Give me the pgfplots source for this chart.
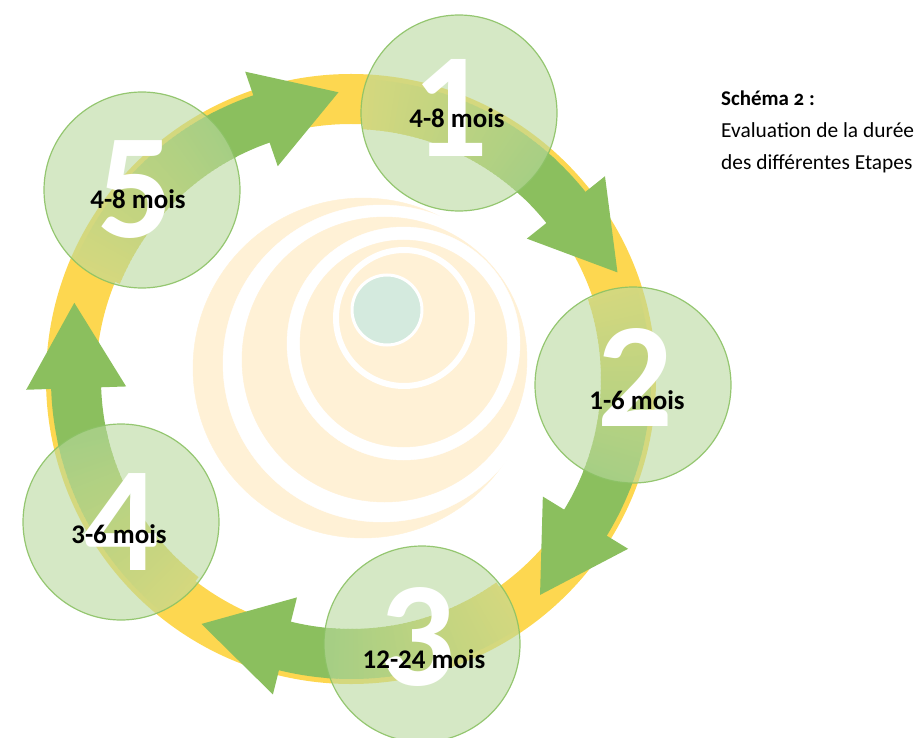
\documentclass[border=0pt]{standalone}
\usepackage{fontspec}
\setmainfont{Carlito}
\usepackage{pgfplots}
\pgfplotsset{compat=1.18}
\usetikzlibrary{calc}

\definecolor{ringyellow}{HTML}{FDD750}
\definecolor{arrowgreen}{HTML}{8BBF5E}
\definecolor{stagefill}{HTML}{B9D99E}
\definecolor{stageedge}{HTML}{8CC265}
\definecolor{cream}{HTML}{FFF1D6}
\definecolor{coretint}{HTML}{D4EADE}

\begin{document}
\begin{tikzpicture}
\begin{axis}[
  name=ax,
  x=1bp, y=1bp, y dir=reverse,
  xmin=0, xmax=916, ymin=0, ymax=738,
  hide axis, scale only axis,
]
\coordinate (O) at (axis cs:0,0);
\coordinate (C) at (axis cs:351,379);
% spiral in the middle (cream discs with white gaps)
\addplot[only marks, color=cream, mark=*, mark size=170bp] coordinates {(363,368)};
\addplot[only marks, color=white, mark=*, mark size=158.5bp] coordinates {(381.5,363.5)};
\addplot[only marks, color=cream, mark=*, mark size=142.5bp] coordinates {(384.5,359.5)};
\addplot[only marks, color=white, mark=*, mark size=116.5bp] coordinates {(403.5,343.5)};
\addplot[only marks, color=cream, mark=*, mark size=103.5bp] coordinates {(403.5,343.5)};
\addplot[only marks, color=white, mark=o, mark size=68bp, mark options={line width=6bp}] coordinates {(404,318)};
\addplot[only marks, mark=*, mark size=35bp, mark options={fill=coretint, draw=white, line width=3bp}] coordinates {(387,310)};
% yellow ring
\addplot[only marks, color=ringyellow, mark=o, mark size=280bp, mark options={line width=50bp}] coordinates {(351,379)};
\end{axis}

% curved arrows: yellow-to-green start, solid shaft, head
\begin{scope}[shift={(C)}]
\foreach \aS/\aB/\aT in {157.6/109/92.5, 87.3/38.6/21.8, 18.6/-31.5/-48.8, -54.5/-103.9/-121.4, 232.4/181.9/164.6}{
  \foreach \k in {0,...,39}{
    \pgfmathsetmacro\angA{\aS-\k}
    \pgfmathsetmacro\angB{\aS-\k-1.4}
    \pgfmathtruncatemacro\pc{round(100*\k/39)}
    \draw[color=arrowgreen!\pc!ringyellow, line width=50bp] (\angA:275bp) arc[start angle=\angA, end angle=\angB, radius=275bp];
  }
  \pgfmathsetmacro\angC{\aS-39.5}
  \pgfmathsetmacro\angD{\aB-1}
  \draw[arrowgreen, line width=50bp] (\angC:275bp) arc[start angle=\angC, end angle=\angD, radius=275bp];
  \fill[arrowgreen] (\aB:225bp) -- (\aB:325bp) -- (\aT:287bp) -- cycle;
}
\end{scope}

% the five stages, drawn over ring and arrows
\begin{axis}[
  x=1bp, y=1bp, y dir=reverse,
  xmin=0, xmax=916, ymin=0, ymax=738,
  hide axis, scale only axis, at={(ax.south west)},
]
\addplot[only marks, mark=*, mark size=98bp,
  mark options={fill=stagefill, fill opacity=0.6, draw=stageedge, draw opacity=0.9, line width=1.2bp}]
  coordinates {(459,113) (633,385) (422,644) (121,522) (142,190)};
\end{axis}

\begin{scope}[shift={(O)}, x=1bp, y=-1bp]
% big stage numbers
\tikzset{num/.style={anchor=base, inner sep=0, text=white, font=\fontsize{150}{150}\selectfont\bfseries}}
\node[num] at (450,157) {1};
\node[num] at (635,427) {2};
\node[num] at (417,686) {3};
\node[num] at (121,571) {4};
\node[num] at (135,238) {5};
% durations and caption
\tikzset{dur/.style={anchor=base, inner sep=0, text=black, font=\fontsize{27}{27}\selectfont\bfseries}}
\node[dur] at (457,128) {4-8 mois};
\node[dur] at (637,410) {1-6 mois};
\node[dur] at (424,669) {12-24 mois};
\node[dur] at (119,544) {3-6 mois};
\node[dur] at (138,209) {4-8 mois};
\node[anchor=base west, inner sep=0, font=\fontsize{21}{21}\selectfont\bfseries\addfontfeatures{Numbers=OldStyle}] at (721,106) {Schéma 2 :};
\node[anchor=base west, inner sep=0, font=\fontsize{21.5}{21.5}\selectfont] at (721,138) {Evaluation de la durée};
\node[anchor=base west, inner sep=0, font=\fontsize{21.5}{21.5}\selectfont] at (721,170) {des différentes Etapes};
\end{scope}

\pgfresetboundingbox
\path (ax.south west) rectangle (ax.north east);
\end{tikzpicture}
\end{document}
